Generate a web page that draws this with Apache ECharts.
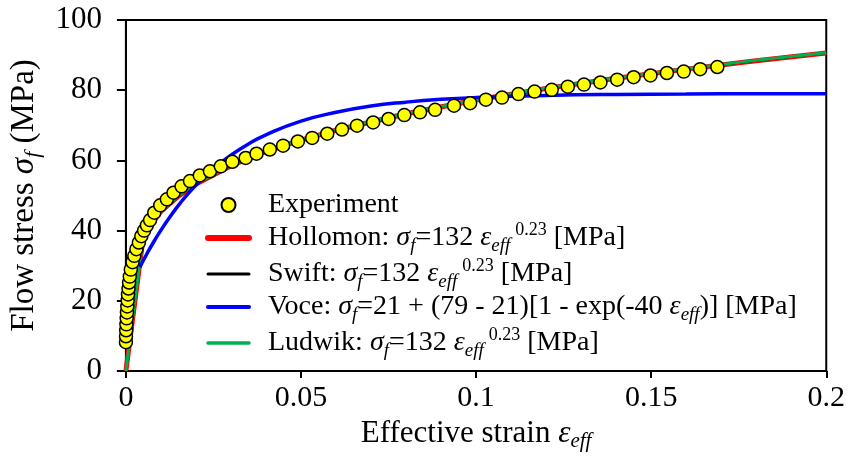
<!DOCTYPE html>
<html><head><meta charset="utf-8">
<script src="https://cdn.jsdelivr.net/npm/echarts@6/dist/echarts.min.js"></script>
<style>html,body{margin:0;padding:0;background:#fff}#c{width:848px;height:471px}</style>
</head><body><div id="c"></div>
<script>
// ---- data ----
const expStrain = [0, 0.00003, 0.00008, 0.00014, 0.00022, 0.0003, 0.0004, 0.0005, 0.0006, 0.00075, 0.0009, 0.0011, 0.0014, 0.0019, 0.0024, 0.0030, 0.0037, 0.0044, 0.0052, 0.0060, 0.0069, 0.0081, 0.0098, 0.0117, 0.0136, 0.0159, 0.0183, 0.0211, 0.0240, 0.0271, 0.0304, 0.0342, 0.0373, 0.0411, 0.0449, 0.0491, 0.0532, 0.0575, 0.0617, 0.0660, 0.0706, 0.0750, 0.0795, 0.0840, 0.0883, 0.0937, 0.0983, 0.1028, 0.1074, 0.1121, 0.1167, 0.1216, 0.1262, 0.1308, 0.1355, 0.1403, 0.1450, 0.1498, 0.1545, 0.1593, 0.1640, 0.1689];
const expStress = [8.2, 9.9, 11.6, 13.3, 15.0, 16.7, 18.4, 20.1, 21.8, 23.5, 25.2, 26.9, 28.9, 31.0, 32.8, 34.7, 36.6, 38.4, 40.0, 41.5, 43.0, 45.1, 47.2, 48.9, 50.8, 52.6, 54.1, 55.7, 56.9, 58.3, 59.6, 60.7, 61.9, 63.1, 64.2, 65.4, 66.4, 67.6, 68.8, 69.9, 70.8, 71.8, 72.9, 73.7, 74.4, 75.6, 76.3, 77.3, 77.9, 78.9, 79.6, 80.1, 81.0, 81.6, 82.2, 83.0, 83.7, 84.2, 84.9, 85.3, 86.0, 86.6];

const fitStrain = [0, 0.005, 0.01, 0.015, 0.02, 0.03, 0.04, 0.05, 0.06, 0.08, 0.1, 0.12, 0.14, 0.16, 0.18, 0.2];
const hollomonStress = [0, 38.7, 45.5, 49.8, 53.3, 58.5, 62.6, 65.8, 68.6, 73.3, 77.2, 80.5, 83.4, 86.0, 88.4, 90.6];
const swiftStress    = [0, 38.7, 45.5, 49.8, 53.3, 58.5, 62.6, 65.8, 68.6, 73.3, 77.2, 80.5, 83.4, 86.0, 88.4, 90.6];
const ludwikStress   = [0, 38.9, 45.6, 49.9, 53.4, 58.6, 62.7, 65.9, 68.7, 73.4, 77.3, 80.6, 83.5, 86.1, 88.5, 90.7];

const voceStrain = [0.004, 0.006, 0.008, 0.01, 0.0125, 0.015, 0.0175, 0.02, 0.025, 0.03, 0.035, 0.04, 0.05, 0.06, 0.07, 0.08, 0.09, 0.1, 0.12, 0.14, 0.16, 0.18, 0.2];
const voceStress = [29.6, 33.4, 36.9, 40.1, 43.8, 47.2, 50.2, 52.9, 57.7, 61.5, 64.7, 67.3, 71.2, 73.7, 75.5, 76.6, 77.4, 77.9, 78.5, 78.8, 78.9, 79.0, 79.0];

const xTicks = [0, 0.05, 0.1, 0.15, 0.2];
const yTicks = [0, 20, 40, 60, 80, 100];

const seriesNames = ['Experiment', 'Hollomon', 'Swift', 'Voce', 'Ludwik'];
const legendText = {
  'Experiment': '{t|Experiment}',
  'Hollomon': '{t|Hollomon: }{i|σ}{s|f}{t|=132 }{i|ε}{s|eff}{p|0.23}{t| [MPa]}',
  'Swift': '{t|Swift: }{i|σ}{s|f}{t|=132 }{i|ε}{s|eff}{p|0.23}{t| [MPa]}',
  'Voce': '{t|Voce: }{i|σ}{s|f}{t|=21 + (79 - 21)[1 - exp(-40 }{i|ε}{s|eff}{t|)] [MPa]}',
  'Ludwik': '{t|Ludwik: }{i|σ}{s|f}{t|=132 }{i|ε}{s|eff}{p|0.23}{t| [MPa]}'
};

// ---- chart ----
const FONT = "'Liberation Serif', 'DejaVu Serif', serif";
const zip = (xs, ys) => xs.map((x, i) => [x, ys[i]]);

const richLegend = {
  t: { fontFamily: FONT, fontSize: 28, color: '#000', lineHeight: 34, verticalAlign: 'middle' },
  i: { fontFamily: FONT, fontSize: 28, fontStyle: 'italic', color: '#000', lineHeight: 34, verticalAlign: 'middle' },
  s: { fontFamily: FONT, fontSize: 19, fontStyle: 'italic', color: '#000', lineHeight: 16, verticalAlign: 'bottom' },
  p: { fontFamily: FONT, fontSize: 18, color: '#000', lineHeight: 16, verticalAlign: 'top', padding: [0, 0, 0, 5] }
};
const richAxisX = {
  t: { fontFamily: FONT, fontSize: 31, color: '#000', lineHeight: 38, verticalAlign: 'middle' },
  i: { fontFamily: FONT, fontSize: 31, fontStyle: 'italic', color: '#000', lineHeight: 38, verticalAlign: 'middle' },
  s: { fontFamily: FONT, fontSize: 21, fontStyle: 'italic', color: '#000', lineHeight: 18, verticalAlign: 'bottom' }
};
const richAxisY = {
  t: { fontFamily: FONT, fontSize: 33, color: '#000', lineHeight: 40, verticalAlign: 'middle' },
  i: { fontFamily: FONT, fontSize: 33, fontStyle: 'italic', color: '#000', lineHeight: 40, verticalAlign: 'middle' },
  s: { fontFamily: FONT, fontSize: 22, fontStyle: 'italic', color: '#000', lineHeight: 18, verticalAlign: 'bottom' }
};

const lineLegendItem = (name, width) => ({
  name: name,
  itemStyle: { opacity: 0 },
  lineStyle: { width: width, cap: 'round' }
});

const chart = echarts.init(document.getElementById('c'), null, { renderer: 'canvas' });
chart.setOption({
  animation: false,
  backgroundColor: '#fff',
  grid: { left: 125, right: 21, top: 20, bottom: 100, show: true, borderColor: '#000', borderWidth: 2, backgroundColor: 'transparent' },
  xAxis: {
    type: 'value', min: xTicks[0], max: xTicks[xTicks.length - 1], interval: xTicks[1] - xTicks[0],
    name: '{t|Effective strain }{i|ε}{s|eff}', nameLocation: 'middle', nameGap: 40,
    nameTextStyle: { rich: richAxisX },
    axisLine: { show: true, onZero: false, lineStyle: { color: '#000', width: 2 } },
    axisTick: { show: true, length: 7, lineStyle: { color: '#000', width: 2 } },
    axisLabel: { fontFamily: FONT, fontSize: 30, color: '#000', margin: 12 },
    splitLine: { show: false }
  },
  yAxis: {
    type: 'value', min: yTicks[0], max: yTicks[yTicks.length - 1], interval: yTicks[1] - yTicks[0],
    name: '{t|Flow stress }{i|σ}{s|f}{t| (MPa)}', nameLocation: 'middle', nameRotate: 90, nameGap: 80,
    nameTextStyle: { rich: richAxisY },
    axisLine: { show: true, onZero: false, lineStyle: { color: '#000', width: 2 } },
    axisTick: { show: true, length: 9, lineStyle: { color: '#000', width: 2 } },
    axisLabel: { fontFamily: FONT, fontSize: 31, color: '#000', margin: 24 },
    splitLine: { show: false }
  },
  legend: {
    orient: 'vertical', left: 205, top: 191, padding: 0, itemGap: 2, itemWidth: 41, itemHeight: 14,
    data: [
      { name: 'Experiment' },
      lineLegendItem('Hollomon', 6),
      lineLegendItem('Swift', 3),
      lineLegendItem('Voce', 4),
      lineLegendItem('Ludwik', 3.5)
    ],
    formatter: n => legendText[n],
    textStyle: { rich: richLegend, padding: [0, 0, 0, 14] }
  },
  series: [
    { name: 'Hollomon', type: 'line', data: zip(fitStrain, hollomonStress), symbol: 'none', smooth: false,
      lineStyle: { color: '#ff0000', width: 5 }, itemStyle: { color: '#ff0000' }, z: 2 },
    { name: 'Swift', type: 'line', data: zip(fitStrain, swiftStress), symbol: 'none', smooth: false,
      lineStyle: { color: '#000000', width: 2 }, itemStyle: { color: '#000000' }, z: 3 },
    { name: 'Ludwik', type: 'line', data: zip(fitStrain, ludwikStress), symbol: 'none', smooth: false,
      lineStyle: { color: '#00b050', width: 3 }, itemStyle: { color: '#00b050' }, z: 4 },
    { name: 'Voce', type: 'line', data: zip(voceStrain, voceStress), symbol: 'none', smooth: true,
      lineStyle: { color: '#0000ff', width: 3.5 }, itemStyle: { color: '#0000ff' }, z: 5 },
    { name: 'Experiment', type: 'scatter', data: zip(expStrain, expStress), symbol: 'circle', symbolSize: 13,
      itemStyle: { color: '#ffff00', borderColor: '#000', borderWidth: 1.5, opacity: 1 }, z: 6 }
  ]
});
</script>
</body></html>
